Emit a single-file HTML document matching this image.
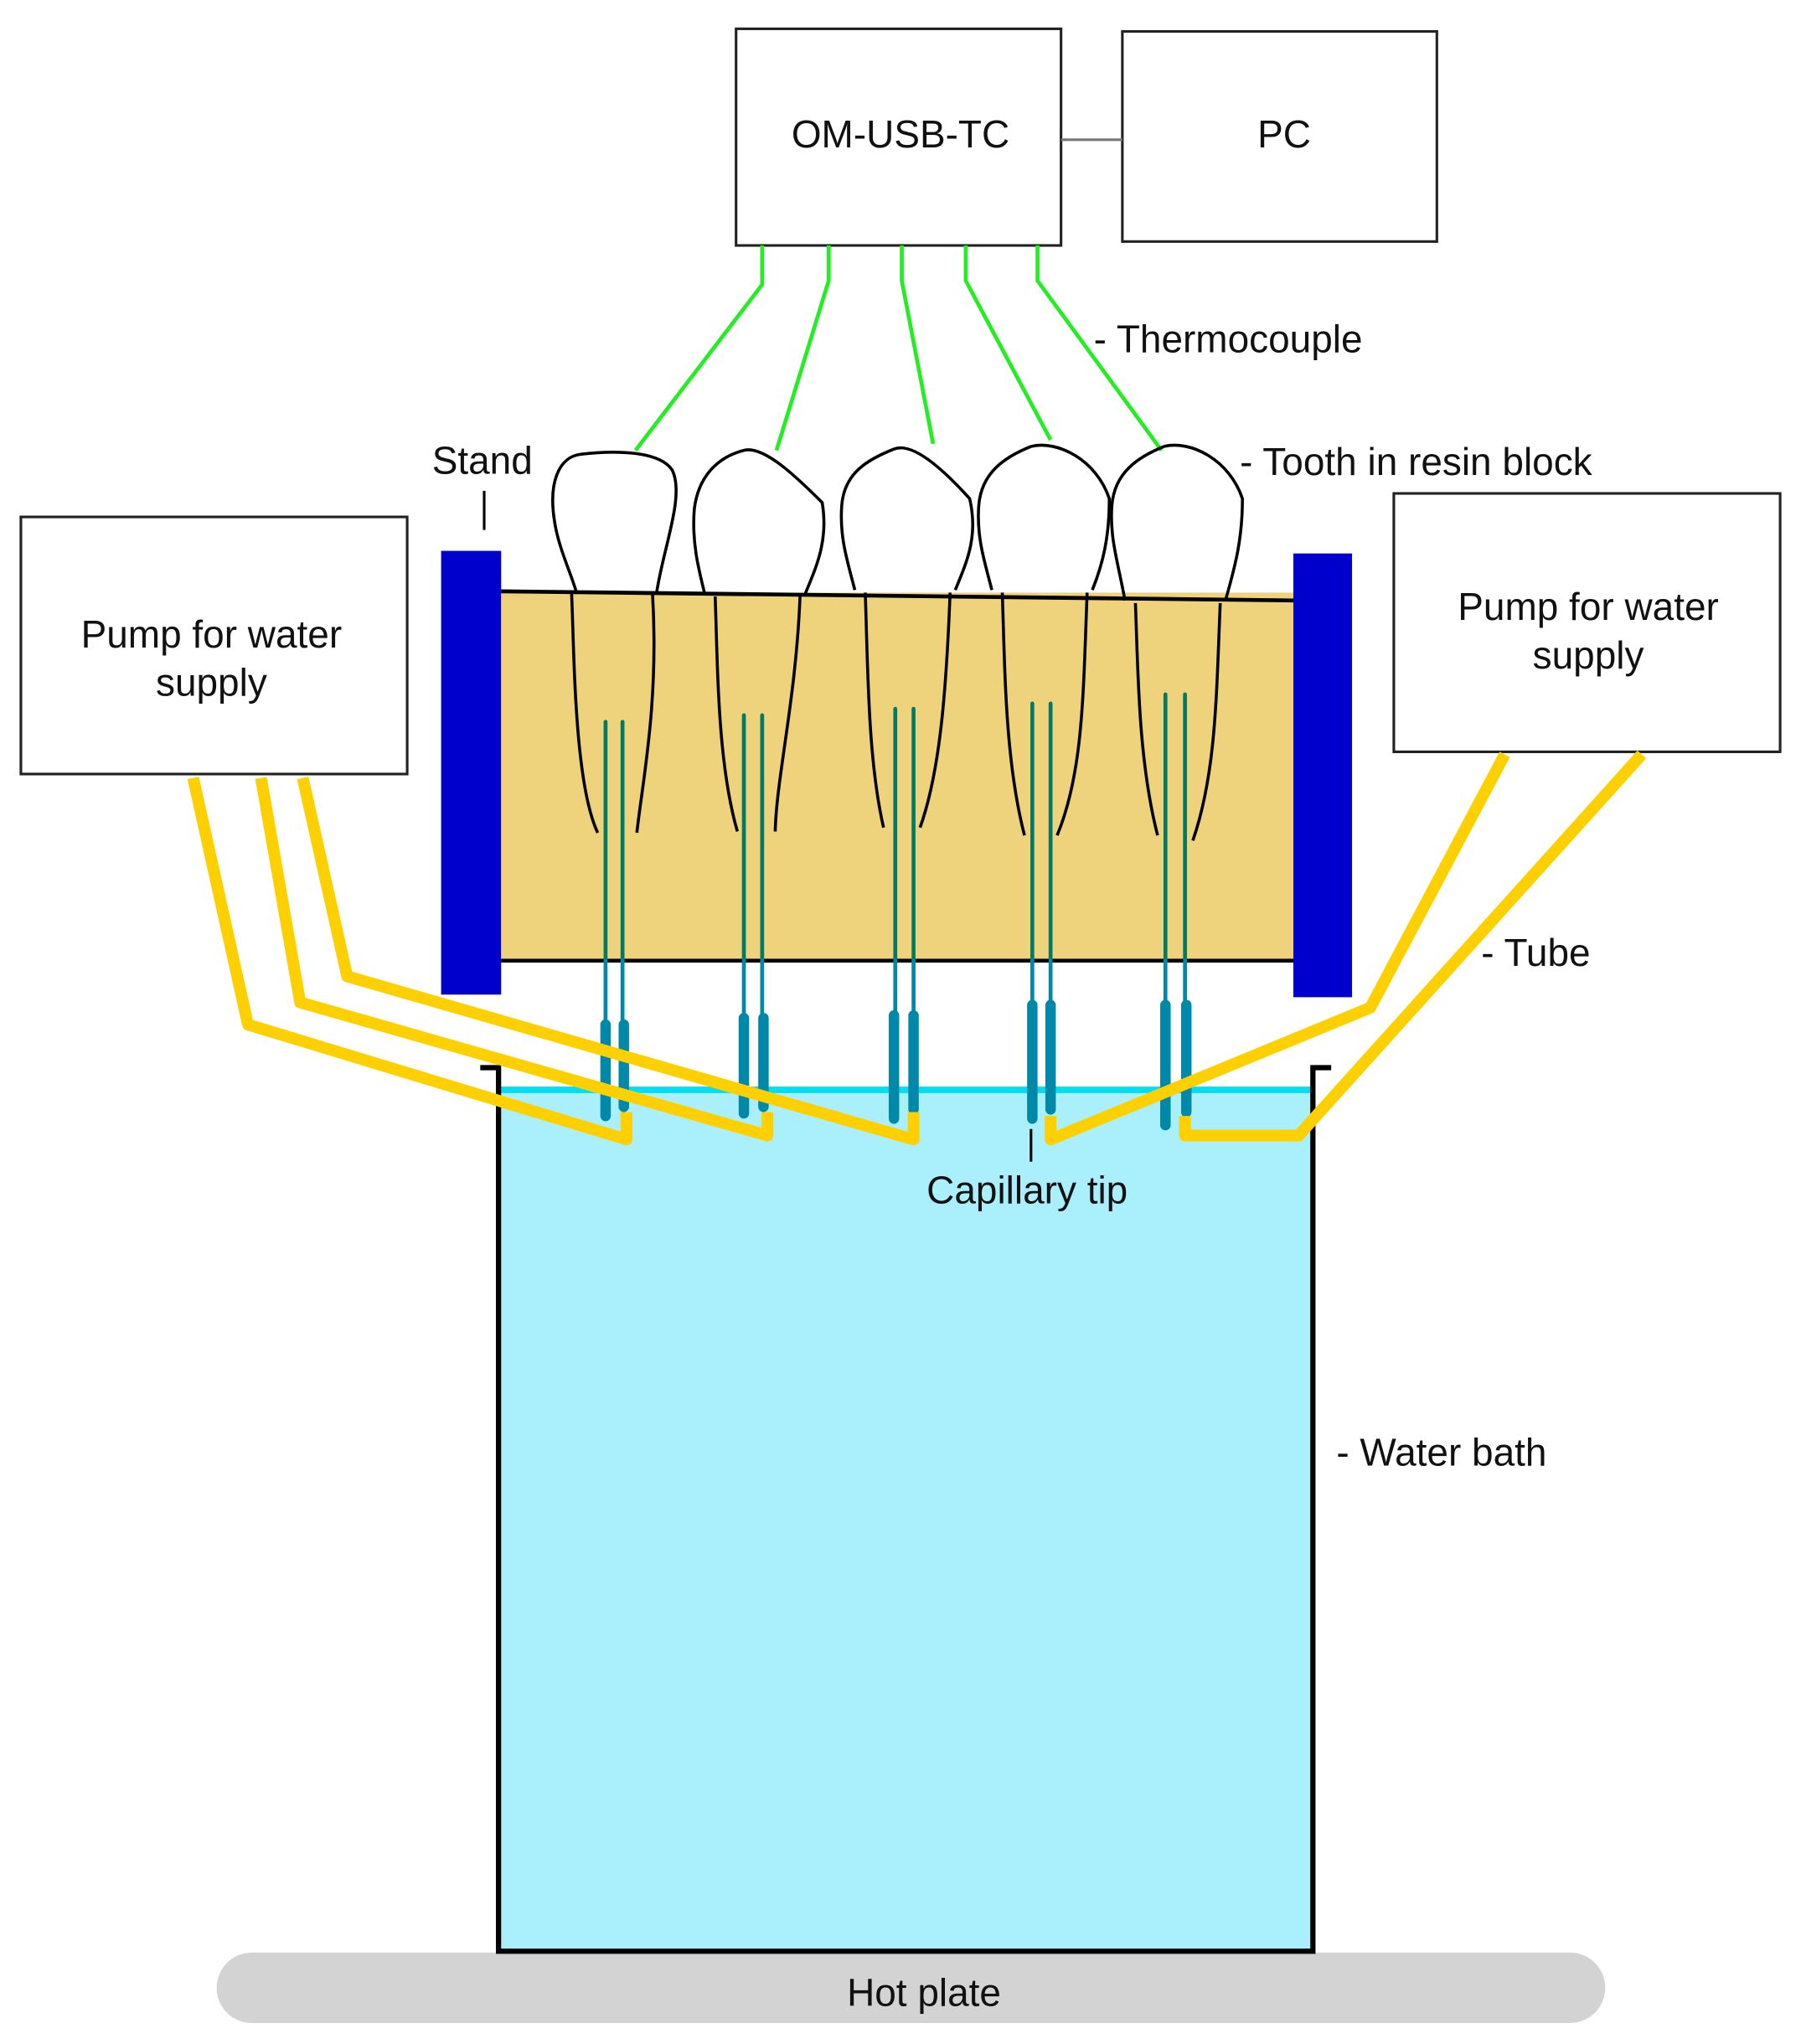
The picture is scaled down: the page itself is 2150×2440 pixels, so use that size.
<!DOCTYPE html>
<html><head><style>html,body{margin:0;padding:0;background:#fff}svg{display:block}</style></head>
<body>
<svg width="2150" height="2440" viewBox="0 0 1380 1566" xmlns="http://www.w3.org/2000/svg" font-family="Liberation Sans, sans-serif">
<rect width="1380" height="1566" fill="#fff"/>
<rect x="166" y="1496" width="1064" height="54" rx="27" fill="#d3d3d3"/>
<text x="708" y="1537" font-size="29.5" text-anchor="middle" fill="#111">Hot plate</text>
<rect x="382" y="835" width="624" height="660" fill="#aaf0fc"/>
<line x1="382" y1="835" x2="1006" y2="835" stroke="#00ddf5" stroke-width="5"/>
<path d="M368,818 H382 V1495 H1006 V818 H1020" fill="none" stroke="#000" stroke-width="4"/>
<g fill="#fff" stroke="#222" stroke-width="2">
<rect x="564" y="22" width="249" height="166"/>
<rect x="860" y="24" width="241" height="161"/>
<rect x="16" y="396" width="296" height="197"/>
<rect x="1068" y="378" width="296" height="198"/>
</g>
<line x1="813" y1="107" x2="860" y2="107" stroke="#777" stroke-width="2"/>
<g font-size="29.5" text-anchor="middle" fill="#111">
<text x="690" y="113">OM-USB-TC</text>
<text x="984" y="113">PC</text>
<text x="162" y="496">Pump for water</text>
<text x="162" y="533">supply</text>
<text x="1217" y="475">Pump for water</text>
<text x="1217" y="512">supply</text>
</g>
<g font-size="29.5" fill="#111">
<text x="838" y="270">- Thermocouple</text>
<text x="331" y="363">Stand</text>
<text x="950" y="364">- Tooth in resin block</text>
<text x="1135" y="740">- Tube</text>
<text x="1024" y="1123">- Water bath</text>
<text x="710" y="922">Capillary tip</text>
</g>
<line x1="371" y1="376" x2="371" y2="406" stroke="#000" stroke-width="2"/>
<line x1="790" y1="865" x2="790" y2="890" stroke="#000" stroke-width="2"/>
<g fill="none" stroke="#22ee22" stroke-width="3">
<path d="M584,188 V218 L487,345"/>
<path d="M635,188 V215 L595,345"/>
<path d="M691,188 V215 L715,340"/>
<path d="M740,188 V215 L805,337"/>
<path d="M795,188 V215 L890,345"/>
</g>
<rect x="338" y="422" width="46" height="340" fill="#0000cc"/>
<rect x="991" y="424" width="45" height="340" fill="#0000cc"/>
<rect x="384" y="454" width="607" height="282" fill="#eed27c"/>
<line x1="384" y1="453" x2="991" y2="460" stroke="#000" stroke-width="3"/>
<line x1="384" y1="736" x2="991" y2="736" stroke="#000" stroke-width="3"/>
<g fill="none" stroke="#000" stroke-width="2.3">
<g>
<path d="M442,455 C438,440 428,420 425,400 C420,370 428,350 445,348 C470,345 505,345 515,360 C525,380 508,420 503,455"/>
<path d="M438,455 C440,500 440,600 458,638"/><path d="M500,455 C505,540 492,600 488,638"/>
</g>
<g transform="translate(110,-5)">
<path d="M430,460 C425,440 420,420 422,395 C425,370 440,355 460,350 C475,346 500,370 520,390 C525,420 515,440 507,460"/>
<path d="M438,462 C440,520 440,590 455,642"/><path d="M503,462 C500,540 485,600 484,642"/>
</g>
<g transform="translate(225,-8)">
<path d="M430,460 C425,440 418,420 420,395 C422,370 440,360 460,352 C475,346 500,370 518,390 C525,420 515,440 507,460"/>
<path d="M438,462 C440,520 440,590 452,642"/><path d="M503,462 C500,540 495,600 480,642"/>
</g>
<g transform="translate(330,-8)">
<path d="M430,460 C425,440 418,420 420,395 C422,370 440,358 460,350 C480,345 510,360 520,390 C520,420 515,440 507,460"/>
<path d="M438,462 C440,520 440,590 455,648"/><path d="M503,462 C500,540 500,600 480,648"/>
</g>
<g transform="translate(432,-8)">
<path d="M430,468 C425,440 418,420 420,395 C422,370 440,358 460,350 C480,345 510,360 520,390 C520,420 515,440 507,468"/>
<path d="M438,470 C440,520 440,590 455,648"/><path d="M503,470 C500,540 500,600 482,652"/>
</g>
</g>
<g stroke-linecap="round">
<g stroke="#007a66" stroke-width="3">
<path d="M464,553V735M477,553V735M570,548V735M584,548V735M686,543V735M700,543V735M791,539V735M805,539V735M893,532V735M908,532V735"/>
</g>
<g stroke="#0088aa" stroke-width="3">
<path d="M464,736V790M477,736V790M570,736V785M584,736V785M686,736V782M700,736V782M791,736V778M805,736V778M893,736V775M908,736V775"/>
</g>
<g stroke="#0088a8" stroke-width="8">
<path d="M464,785V855M478,785V848M570,780V853M585,780V848M685,778V857M700,778V850M791,770V857M805,770V850M893,770V862M909,770V852"/>
</g>
</g>
<g fill="none" stroke="#ffd000" stroke-width="9" stroke-linejoin="round">
<path d="M148,596 L190,785 L480,873 V852"/>
<path d="M200,596 L230,768 L588,870 V852"/>
<path d="M232,596 L266,748 L700,873 V852"/>
<path d="M1153,578 L1050,772 L805,873 V855"/>
<path d="M1258,578 L995,870 H908 V855"/>
</g>
</svg>
</body></html>
